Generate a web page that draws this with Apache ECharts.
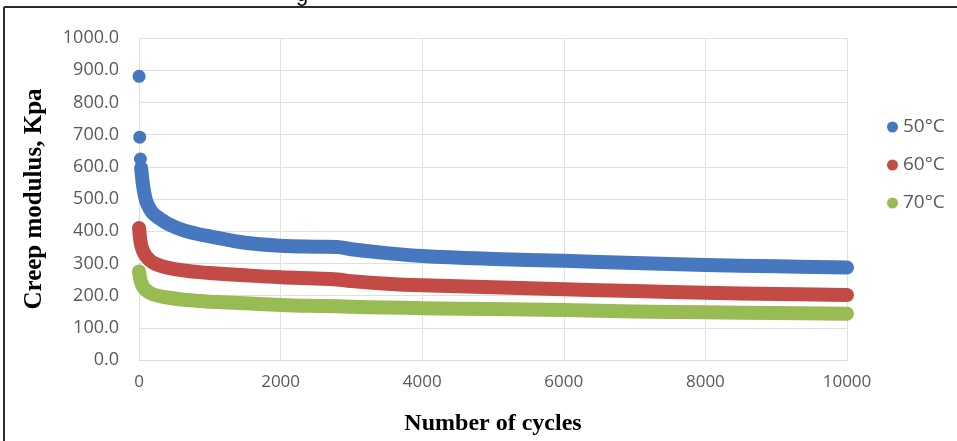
<!DOCTYPE html>
<html>
<head>
<meta charset="utf-8">
<script src="https://cdn.jsdelivr.net/npm/echarts@6/dist/echarts.min.js"></script>
<style>
  html, body { margin: 0; padding: 0; background: #fff; }
  #chart { width: 957px; height: 441px; }
</style>
</head>
<body>
<div id="chart"></div>
<script>
// Creep modulus (kPa) against loading cycles at three temperatures
const seriesNames = ['50°C', '60°C', '70°C'];
const seriesColors = ['#4677BF', '#C44A45', '#98BC53'];

const yTicks = [0, 100, 200, 300, 400, 500, 600, 700, 800, 900, 1000];
const xTicks = [0, 2000, 4000, 6000, 8000, 10000];

// first separate readings of the 50°C test
const cyclesEarly50 = [1, 10, 20];
const modulusEarly50 = [881, 692, 624];

// continuous parts of the curves
const cycles50 = [30, 40, 50, 70, 100, 150, 200, 300, 400, 600, 800, 1000, 1500, 2000, 2500, 2800, 3000, 3500, 4000, 5000, 6000, 7000, 8000, 9000, 10000];
const modulus50 = [596, 575, 555, 525, 495, 470, 455, 438, 424, 405, 393, 384, 364, 355, 352, 351, 344, 332, 323, 314, 308, 301, 295, 291, 287];

const cycles60 = [1, 10, 20, 30, 40, 50, 70, 100, 150, 200, 300, 400, 600, 800, 1000, 1500, 2000, 2500, 2800, 3000, 3500, 4000, 5000, 6000, 7000, 8000, 9000, 10000];
const modulus60 = [410, 388, 370, 358, 350, 343, 333, 322, 310, 302, 293, 287, 279, 274, 270, 263, 257, 253, 250, 245, 237, 232, 226, 220, 214, 209, 205, 202];

const cycles70 = [1, 10, 20, 30, 40, 50, 70, 100, 150, 200, 300, 400, 600, 800, 1000, 1500, 2000, 2500, 2800, 3000, 3500, 4000, 5000, 6000, 7000, 8000, 9000, 10000];
const modulus70 = [275, 262, 250, 242, 236, 231, 224, 217, 209, 204, 198, 194, 188, 184, 181, 176, 171, 168, 167, 165, 163, 161, 158, 155, 151, 148, 146, 144];

function pairs(xs, ys) {
  return xs.map((x, i) => [x, ys[i]]);
}

function band(name, color, xs, ys) {
  return {
    name: name,
    type: 'line',
    data: pairs(xs, ys),
    showSymbol: false,
    symbol: 'circle',
    smooth: 0.4,
    lineStyle: { color: color, width: 14, cap: 'round', join: 'round' },
    itemStyle: { color: color },
    z: 3
  };
}

const chart = echarts.init(document.getElementById('chart'));
const labelGray = '#595959';

chart.setOption({
  animation: false,
  backgroundColor: '#ffffff',
  grid: { left: 139, right: 110, top: 38, bottom: 81 },
  legend: {
    orient: 'vertical',
    left: 882,
    top: 112,
    icon: 'circle',
    itemWidth: 11,
    itemHeight: 11,
    itemGap: 18,
    data: seriesNames,
    textStyle: { fontFamily: 'Open Sans', fontSize: 19, color: labelGray, lineHeight: 20 }
  },
  xAxis: {
    type: 'value',
    min: xTicks[0],
    max: xTicks[xTicks.length - 1],
    interval: 2000,
    name: 'Number of cycles',
    nameLocation: 'middle',
    nameGap: 52,
    nameTextStyle: { fontFamily: 'Liberation Serif', fontWeight: 'bold', fontSize: 24, color: '#000' },
    axisLine: { show: true, lineStyle: { color: '#D9D9D9', width: 1 } },
    axisTick: { show: false },
    axisLabel: {
      margin: 14,
      fontFamily: 'Open Sans',
      fontSize: 17,
      color: labelGray,
      formatter: v => String(v)
    },
    splitLine: { show: true, lineStyle: { color: '#E0E0E0', width: 1 } }
  },
  yAxis: {
    type: 'value',
    min: yTicks[0],
    max: yTicks[yTicks.length - 1],
    interval: 100,
    name: 'Creep modulus, Kpa',
    nameLocation: 'middle',
    nameGap: 92,
    nameTextStyle: { fontFamily: 'Liberation Serif', fontWeight: 'bold', fontSize: 25, color: '#000' },
    axisLine: { show: false },
    axisTick: { show: false },
    axisLabel: {
      margin: 20,
      fontFamily: 'Open Sans',
      fontSize: 18,
      color: labelGray,
      formatter: v => v.toFixed(1)
    },
    splitLine: { show: true, lineStyle: { color: '#E0E0E0', width: 1 } }
  },
  series: [
    {
      name: seriesNames[0],
      type: 'scatter',
      data: pairs(cyclesEarly50, modulusEarly50),
      symbol: 'circle',
      symbolSize: 13,
      itemStyle: { color: seriesColors[0], opacity: 1 },
      z: 4
    },
    band(seriesNames[0], seriesColors[0], cycles50, modulus50),
    band(seriesNames[1], seriesColors[1], cycles60, modulus60),
    band(seriesNames[2], seriesColors[2], cycles70, modulus70)
  ],
  graphic: [
    {
      type: 'line',
      shape: { x1: 4, y1: 7, x2: 957, y2: 7 },
      style: { stroke: '#2b2b2b', lineWidth: 2 }
    },
    {
      type: 'line',
      shape: { x1: 4, y1: 7, x2: 4, y2: 441 },
      style: { stroke: '#2b2b2b', lineWidth: 2 }
    },
    {
      type: 'text',
      left: 296,
      top: -16,
      style: { text: 'g', fontFamily: 'Liberation Sans', fontSize: 22, fill: '#000' }
    }
  ]
});
</script>
</body>
</html>
